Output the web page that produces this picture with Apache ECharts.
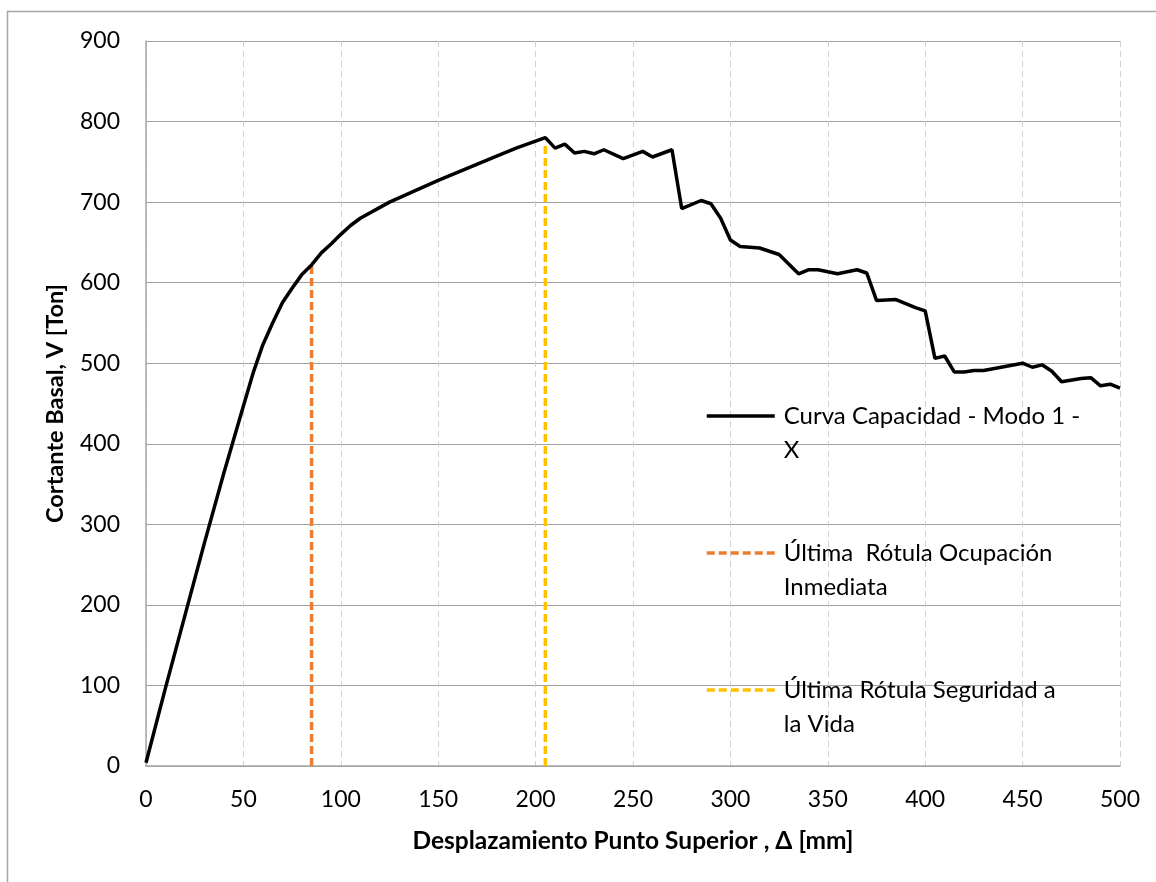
<!DOCTYPE html>
<html>
<head>
<meta charset="utf-8">
<script src="https://cdn.jsdelivr.net/npm/echarts@6/dist/echarts.min.js"></script>
<style>
  html, body { margin: 0; padding: 0; background: #ffffff; }
  #chart { width: 1156px; height: 882px; }
</style>
</head>
<body>
<div id="chart"></div>
<script>
// Pushover capacity curve: top displacement [mm] vs base shear [Ton]
const displacement = [0, 10, 20, 30, 40, 50, 55, 60, 65, 70, 75, 80, 85, 90, 95, 100, 105, 110, 125, 150,
  180, 190, 205, 210, 215, 220, 225, 230, 235, 245, 255, 260, 270, 275, 285, 290, 295, 300, 305, 315,
  325, 335, 340, 345, 355, 365, 370, 375, 385, 390, 395, 400, 405, 410, 415, 420, 425, 430, 450, 455,
  460, 465, 470, 480, 485, 490, 495, 500];
const baseShear = [4, 97, 187, 277, 364, 447, 488, 523, 550, 575, 593, 610, 622, 637, 648, 660, 671, 680, 700, 727,
  757, 767, 780, 767, 772, 761, 763, 760, 765, 754, 763, 756, 765, 692, 702, 698, 680, 653, 645, 643,
  635, 611, 616, 616, 611, 616, 612, 578, 579, 574, 569, 565, 506, 509, 489, 489, 491, 491, 500, 495,
  498, 490, 477, 481, 482, 472, 474, 469];

// Displacement of the last hinge for each performance level, and the shear where the marker stops
const ioDisp = 85, ioShear = 621;
const lsDisp = 205, lsShear = 773;

const seriesNames = [
  'Curva Capacidad - Modo 1 -\nX',
  'Última  Rótula Ocupación\nInmediata',
  'Última Rótula Seguridad a\nla Vida'
];

const xTicks = { min: 0, max: 500, step: 50 };
const yTicks = { min: 0, max: 900, step: 100 };

const curve = displacement.map((d, i) => [d, baseShear[i]]);
const ioLine = [[ioDisp, 0], [ioDisp, ioShear]];
const lsLine = [[lsDisp, 0], [lsDisp, lsShear]];

const FONT = 'Lato, "Open Sans", sans-serif';

const chart = echarts.init(document.getElementById('chart'), null, { renderer: 'canvas' });

chart.setOption({
  backgroundColor: '#ffffff',
  animation: false,
  graphic: [{
    type: 'rect',
    shape: { x: 7.5, y: 11.5, width: 1300, height: 1000 },
    style: { fill: 'none', stroke: '#a6a6a6', lineWidth: 1.5 },
    silent: true
  }],
  grid: { left: 146, right: 36, top: 41, bottom: 116 },
  xAxis: {
    type: 'value',
    min: xTicks.min, max: xTicks.max, interval: xTicks.step,
    name: 'Desplazamiento Punto Superior , Δ [mm]',
    nameLocation: 'middle',
    nameGap: 63,
    nameTextStyle: { fontFamily: FONT, fontWeight: 'bold', fontSize: 24.5, color: '#000' },
    axisLine: { show: true, lineStyle: { color: '#a6a6a6', width: 1.5 } },
    axisTick: { show: false },
    axisLabel: { fontFamily: FONT, fontSize: 23, color: '#000', margin: 22 },
    splitLine: { show: true, lineStyle: { color: '#d0d0d0', width: 1, type: [6, 4] } }
  },
  yAxis: {
    type: 'value',
    min: yTicks.min, max: yTicks.max, interval: yTicks.step,
    name: 'Cortante Basal, V [Ton]',
    nameLocation: 'middle',
    nameGap: 79,
    nameTextStyle: { fontFamily: FONT, fontWeight: 'bold', fontSize: 23.5, color: '#000' },
    axisLine: { show: true, lineStyle: { color: '#a6a6a6', width: 1.5 } },
    axisTick: { show: false },
    axisLabel: { fontFamily: FONT, fontSize: 23, color: '#000', margin: 26 },
    splitLine: { show: true, lineStyle: { color: '#a0a0a0', width: 1.2 } }
  },
  legend: {
    orient: 'vertical',
    left: 705,
    top: 365,
    padding: 0,
    itemGap: 35,
    itemWidth: 68,
    itemHeight: 14,
    itemStyle: { opacity: 0 },
    lineStyle: { width: 3.5 },
    // a leading blank line keeps the first line of each entry level with its line sample
    formatter: name => '\n' + name,
    textStyle: {
      fontFamily: FONT, fontSize: 24, color: '#000', lineHeight: 34,
      padding: [0, 0, 0, 4]
    },
    data: seriesNames
  },
  series: [
    {
      name: seriesNames[0],
      type: 'line',
      data: curve,
      symbol: 'none',
      lineStyle: { color: '#000000', width: 3.5 },
      itemStyle: { color: '#000000' },
      z: 3
    },
    {
      name: seriesNames[1],
      type: 'line',
      data: ioLine,
      symbol: 'none',
      lineStyle: { color: '#ED7D31', width: 3.5, type: [8, 4] },
      itemStyle: { color: '#ED7D31' },
      z: 2
    },
    {
      name: seriesNames[2],
      type: 'line',
      data: lsLine,
      symbol: 'none',
      lineStyle: { color: '#FFC000', width: 3.5, type: [8, 4] },
      itemStyle: { color: '#FFC000' },
      z: 2
    }
  ]
});
</script>
</body>
</html>
